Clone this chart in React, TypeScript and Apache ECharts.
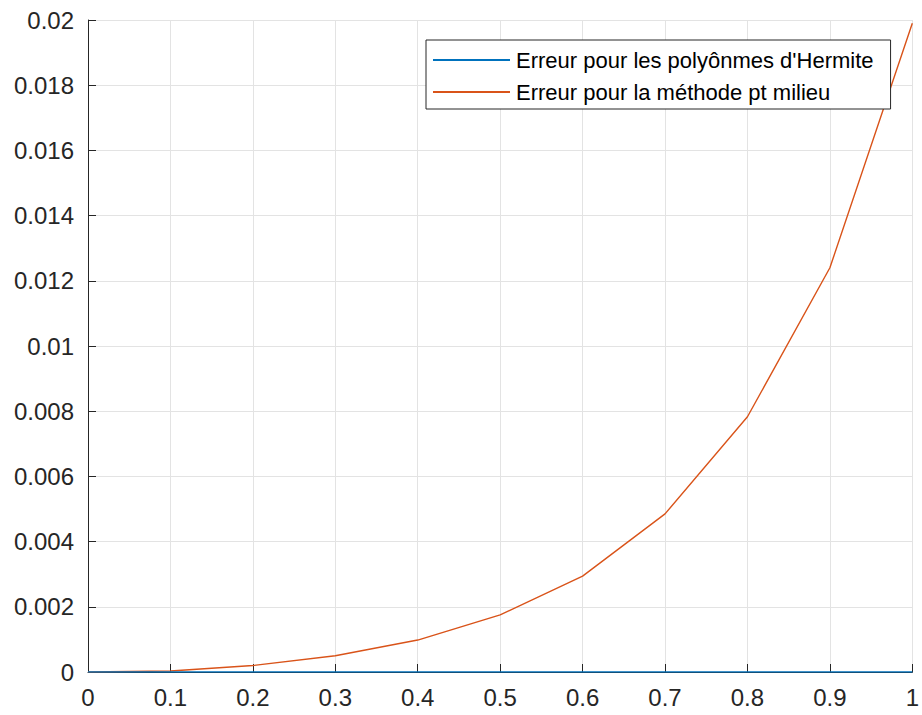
import React, { useEffect, useRef } from "react";
import * as echarts from "echarts";

// Abscissae of the evaluation points
const xValues = [0, 0.1, 0.2, 0.3, 0.4, 0.5, 0.6, 0.7, 0.8, 0.9, 1.0];
// Error of the Hermite interpolation (numerically zero)
const hermiteError = [0, 0, 0, 0, 0, 0, 0, 0, 0, 0, 0];
// Error of the midpoint method
const midpointError = [0, 0.00003, 0.0002, 0.0005, 0.00098, 0.00175, 0.00294, 0.00485, 0.00783, 0.0124, 0.0199];

const seriesNames = [
  "Erreur pour les polyônmes d'Hermite",
  "Erreur pour la méthode pt milieu",
];

const FONT = "'Liberation Sans', Arial, Helvetica, sans-serif";
const AXIS_COLOR = "#262626";
const GRID_COLOR = "#e3e3e3";

export default function App() {
  const ref = useRef<HTMLDivElement>(null);

  useEffect(() => {
    if (!ref.current) return;
    const chart = echarts.init(ref.current, null, { renderer: "svg" });
    const pairs = (ys: number[]) => xValues.map((x, i) => [x, ys[i]]);
    chart.setOption({
      animation: false,
      backgroundColor: "#ffffff",
      grid: { left: 88, right: 8, top: 20, bottom: 43, containLabel: false },
      legend: {
        orient: "vertical",
        left: 426,
        top: 40,
        padding: [7, 17, 4, 7],
        itemGap: 6,
        itemWidth: 77,
        itemHeight: 2,
        icon: "rect",
        borderColor: "#262626",
        borderWidth: 1,
        borderRadius: 0,
        backgroundColor: "#ffffff",
        textStyle: { fontFamily: FONT, fontSize: 22, lineHeight: 26, color: "#000000", padding: [0, 0, 0, 1] },
        data: seriesNames,
      },
      xAxis: {
        type: "value",
        min: 0,
        max: 1,
        interval: 0.1,
        axisLine: { show: true, lineStyle: { color: AXIS_COLOR, width: 1 } },
        axisTick: { show: true, inside: true, length: 8, lineStyle: { color: AXIS_COLOR } },
        axisLabel: { fontFamily: FONT, fontSize: 24, color: AXIS_COLOR, margin: 13 },
        splitLine: { show: true, lineStyle: { color: GRID_COLOR, width: 1 } },
      },
      yAxis: {
        type: "value",
        min: 0,
        max: 0.02,
        interval: 0.002,
        axisLine: { show: true, lineStyle: { color: AXIS_COLOR, width: 1 } },
        axisTick: { show: true, inside: true, length: 8, lineStyle: { color: AXIS_COLOR } },
        axisLabel: {
          fontFamily: FONT,
          fontSize: 24,
          color: AXIS_COLOR,
          margin: 14,
          formatter: (v: number) => String(parseFloat(v.toFixed(4))),
        },
        splitLine: { show: true, lineStyle: { color: GRID_COLOR, width: 1 } },
      },
      series: [
        {
          name: seriesNames[0],
          type: "line",
          data: pairs(hermiteError),
          symbol: "none",
          lineStyle: { color: "#0072BD", width: 1.6 },
          itemStyle: { color: "#0072BD" },
          z: 3,
        },
        {
          name: seriesNames[1],
          type: "line",
          data: pairs(midpointError),
          symbol: "none",
          lineStyle: { color: "#D95319", width: 1.4 },
          itemStyle: { color: "#D95319" },
          z: 2,
        },
      ],
    });
    return () => chart.dispose();
  }, []);

  return <div ref={ref} style={{ width: 922, height: 715, position: "absolute", left: 0, top: 0 }} />;
}
